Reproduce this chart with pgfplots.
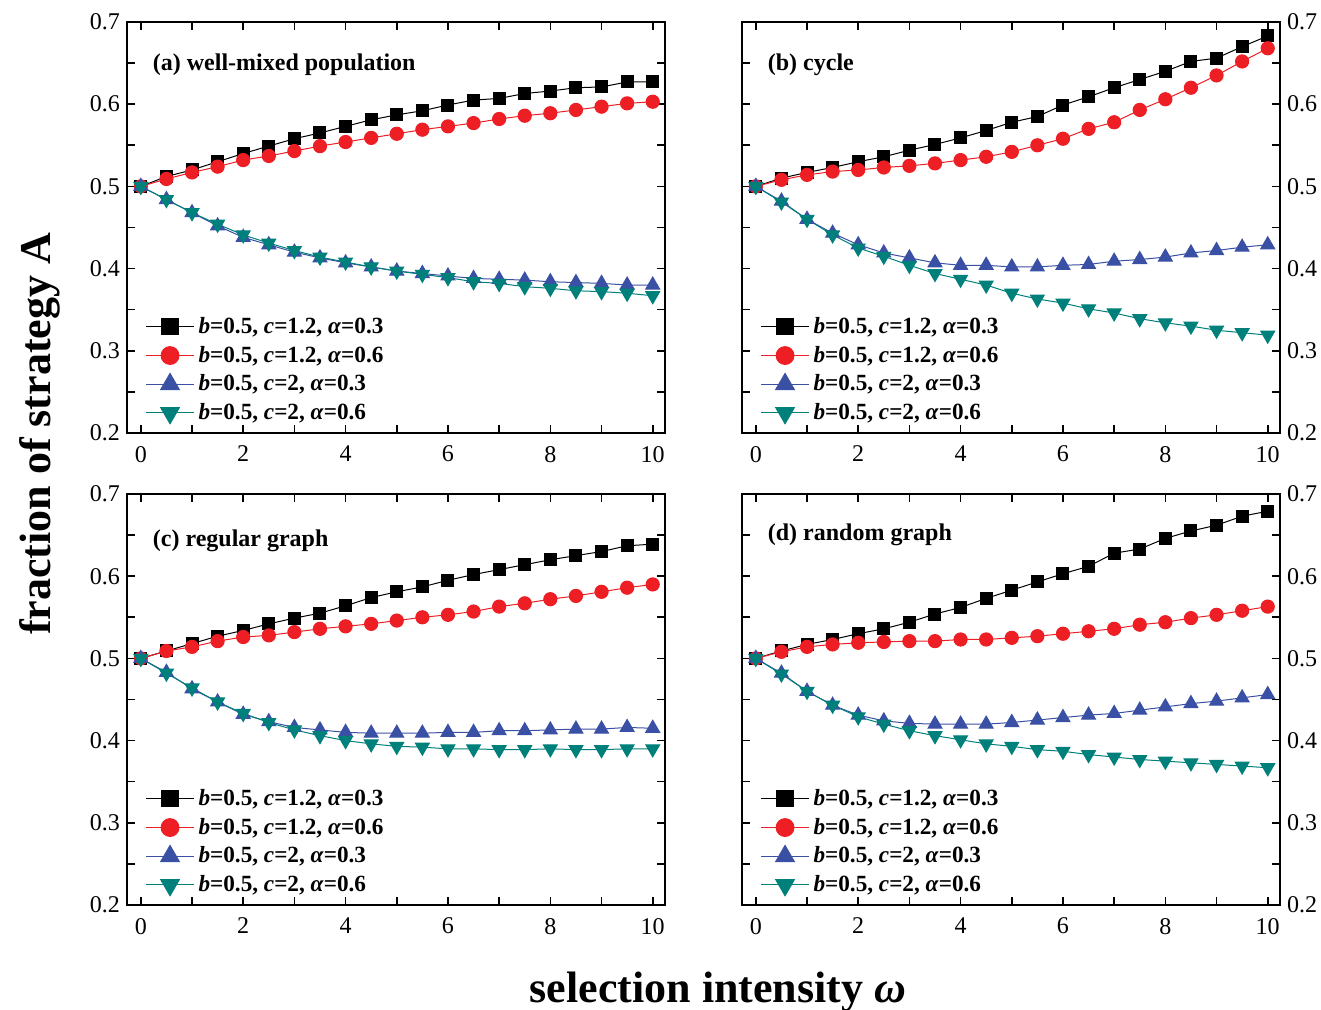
\documentclass[border=0pt]{standalone}
\usepackage{fontspec}
\setmainfont{Liberation Serif}
\usepackage{pgfplots}
\usepackage{pgfplotstable}
\pgfplotsset{compat=1.18}

\definecolor{cred}{RGB}{237,30,36}
\definecolor{cblue}{RGB}{58,80,165}
\definecolor{cteal}{RGB}{0,128,122}

% columns: omega, (c=1.2,a=0.3), (c=1.2,a=0.6), (c=2,a=0.3), (c=2,a=0.6)
\pgfplotstableread{
x    s1    s2    s3    s4
0    0.500 0.500 0.500 0.500
0.5  0.512 0.509 0.484 0.484
1    0.520 0.517 0.468 0.468
1.5  0.530 0.524 0.452 0.454
2    0.540 0.532 0.438 0.441
2.5  0.549 0.537 0.429 0.431
3    0.558 0.543 0.420 0.422
3.5  0.565 0.549 0.413 0.414
4    0.573 0.554 0.407 0.408
4.5  0.581 0.559 0.402 0.402
5    0.587 0.564 0.397 0.397
5.5  0.592 0.569 0.394 0.393
6    0.599 0.573 0.391 0.389
6.5  0.605 0.577 0.388 0.384
7    0.607 0.582 0.387 0.382
7.5  0.613 0.586 0.386 0.378
8    0.616 0.589 0.384 0.376
8.5  0.620 0.593 0.383 0.373
9    0.621 0.597 0.382 0.372
9.5  0.627 0.601 0.380 0.370
10   0.627 0.603 0.380 0.367
}\tabA

\pgfplotstableread{
x    s1    s2    s3    s4
0    0.500 0.500 0.500 0.500
0.5  0.510 0.508 0.482 0.481
1    0.517 0.514 0.460 0.460
1.5  0.523 0.518 0.443 0.441
2    0.530 0.520 0.429 0.425
2.5  0.536 0.523 0.419 0.415
3    0.544 0.525 0.413 0.404
3.5  0.551 0.528 0.407 0.394
4    0.559 0.532 0.404 0.387
4.5  0.568 0.536 0.404 0.380
5    0.578 0.542 0.402 0.370
5.5  0.585 0.550 0.402 0.363
6    0.599 0.558 0.404 0.358
6.5  0.609 0.570 0.405 0.351
7    0.620 0.578 0.409 0.346
7.5  0.630 0.593 0.411 0.339
8    0.640 0.606 0.414 0.334
8.5  0.652 0.620 0.419 0.330
9    0.656 0.635 0.422 0.325
9.5  0.670 0.652 0.426 0.322
10   0.683 0.668 0.429 0.319
}\tabB

\pgfplotstableread{
x    s1    s2    s3    s4
0    0.500 0.500 0.500 0.500
0.5  0.509 0.509 0.483 0.482
1    0.518 0.514 0.463 0.464
1.5  0.527 0.521 0.447 0.447
2    0.534 0.526 0.432 0.433
2.5  0.542 0.528 0.423 0.422
3    0.549 0.532 0.416 0.413
3.5  0.555 0.536 0.413 0.406
4    0.564 0.539 0.410 0.400
4.5  0.574 0.542 0.409 0.396
5    0.581 0.546 0.409 0.393
5.5  0.587 0.550 0.409 0.392
6    0.595 0.553 0.410 0.390
6.5  0.602 0.557 0.410 0.390
7    0.608 0.563 0.412 0.389
7.5  0.614 0.567 0.412 0.389
8    0.620 0.572 0.413 0.390
8.5  0.625 0.576 0.414 0.389
9    0.630 0.581 0.414 0.389
9.5  0.637 0.586 0.416 0.390
10   0.639 0.590 0.415 0.390
}\tabC

\pgfplotstableread{
x    s1    s2    s3    s4
0    0.500 0.500 0.500 0.500
0.5  0.509 0.508 0.482 0.481
1    0.517 0.514 0.460 0.460
1.5  0.523 0.517 0.443 0.443
2    0.530 0.519 0.431 0.429
2.5  0.536 0.520 0.424 0.420
3    0.544 0.521 0.421 0.412
3.5  0.554 0.521 0.420 0.406
4    0.562 0.523 0.420 0.401
4.5  0.573 0.523 0.420 0.396
5    0.583 0.525 0.422 0.393
5.5  0.593 0.527 0.425 0.389
6    0.603 0.530 0.428 0.387
6.5  0.612 0.533 0.431 0.383
7    0.628 0.536 0.433 0.380
7.5  0.633 0.541 0.437 0.377
8    0.646 0.544 0.441 0.375
8.5  0.655 0.549 0.445 0.373
9    0.662 0.553 0.448 0.371
9.5  0.673 0.558 0.452 0.369
10   0.679 0.563 0.456 0.367
}\tabD

\pgfplotsset{
  panel/.style={
    scale only axis, width=269pt, height=205.5pt,
    xmin=-0.27, xmax=10.24, ymin=0.2, ymax=0.7,
    xtick={0,2,4,6,8,10}, ytick={0.2,0.3,0.4,0.5,0.6,0.7},
    minor x tick num=1, minor y tick num=1,
    tick align=inside, major tick length=4pt, minor tick length=4pt,
    every tick/.style={black, line width=0.8pt},
    axis line style={line width=0.8pt},
    /pgf/number format/assume math mode=true,
    yticklabel style={/pgf/number format/.cd, fixed, fixed zerofill, precision=1},
    ticklabel style={font=\fontsize{12}{14}\selectfont},
    xticklabel style={yshift=-3pt},
    legend cell align=left,
    legend style={draw=none, fill=none, at={(0.03,0.01)}, anchor=south west,
      font=\fontsize{11.6}{13}\selectfont\bfseries, row sep=0.8pt, inner sep=1pt},
    legend image code/.code={%
      \pgfmathsetlength{\pgfplotmarksize}{1.35*\pgfplotmarksize}%
      \draw[mark repeat=2,mark phase=2] plot coordinates {(0pt,0pt) (12pt,0pt) (24pt,0pt)};},
  },
  sA/.style={black, line width=0.5pt, mark=square*, mark size=3pt},
  sB/.style={cred, line width=0.5pt, mark=*, mark size=3.3pt},
  sC/.style={cblue, line width=0.5pt, mark=triangle*, mark size=4pt},
  sD/.style={cteal, line width=0.5pt, mark=triangle*, mark size=4pt, mark options={rotate=180}},
}

\newcommand{\leg}{\legend{{\textit{b}=0.5, \textit{c}=1.2, \textit{α}=0.3},
  {\textit{b}=0.5, \textit{c}=1.2, \textit{α}=0.6},
  {\textit{b}=0.5, \textit{c}=2, \textit{α}=0.3},
  {\textit{b}=0.5, \textit{c}=2, \textit{α}=0.6}}}

\begin{document}
\begin{tikzpicture}
\useasboundingbox (0,0) rectangle (660.5pt,505pt);

\begin{axis}[panel, at={(63.5pt,288.5pt)}, anchor=south west]
\addplot[sA] table[x=x,y=s1]{\tabA};
\addplot[sB] table[x=x,y=s2]{\tabA};
\addplot[sC] table[x=x,y=s3]{\tabA};
\addplot[sD] table[x=x,y=s4]{\tabA};
\leg
\node[anchor=west, font=\fontsize{12}{14}\selectfont\bfseries] at (rel axis cs:0.035,0.896) {(a) well-mixed population};
\end{axis}

\begin{axis}[panel, at={(371pt,288.5pt)}, anchor=south west, yticklabel pos=right]
\addplot[sA] table[x=x,y=s1]{\tabB};
\addplot[sB] table[x=x,y=s2]{\tabB};
\addplot[sC] table[x=x,y=s3]{\tabB};
\addplot[sD] table[x=x,y=s4]{\tabB};
\leg
\node[anchor=west, font=\fontsize{12}{14}\selectfont\bfseries] at (rel axis cs:0.035,0.896) {(b) cycle};
\end{axis}

\begin{axis}[panel, at={(63.5pt,52.5pt)}, anchor=south west]
\addplot[sA] table[x=x,y=s1]{\tabC};
\addplot[sB] table[x=x,y=s2]{\tabC};
\addplot[sC] table[x=x,y=s3]{\tabC};
\addplot[sD] table[x=x,y=s4]{\tabC};
\leg
\node[anchor=west, font=\fontsize{12}{14}\selectfont\bfseries] at (rel axis cs:0.035,0.885) {(c) regular graph};
\end{axis}

\begin{axis}[panel, at={(371pt,52.5pt)}, anchor=south west, yticklabel pos=right]
\addplot[sA] table[x=x,y=s1]{\tabD};
\addplot[sB] table[x=x,y=s2]{\tabD};
\addplot[sC] table[x=x,y=s3]{\tabD};
\addplot[sD] table[x=x,y=s4]{\tabD};
\leg
\node[anchor=west, font=\fontsize{12}{14}\selectfont\bfseries] at (rel axis cs:0.035,0.9) {(d) random graph};
\end{axis}

\node[rotate=90, font=\fontsize{22}{26}\selectfont\bfseries] at (20pt,288pt) {fraction of strategy A};
\node[anchor=base, font=\fontsize{22}{26}\selectfont\bfseries] at (359pt,3.5pt) {selection intensity \textit{ω}};
\end{tikzpicture}
\end{document}
